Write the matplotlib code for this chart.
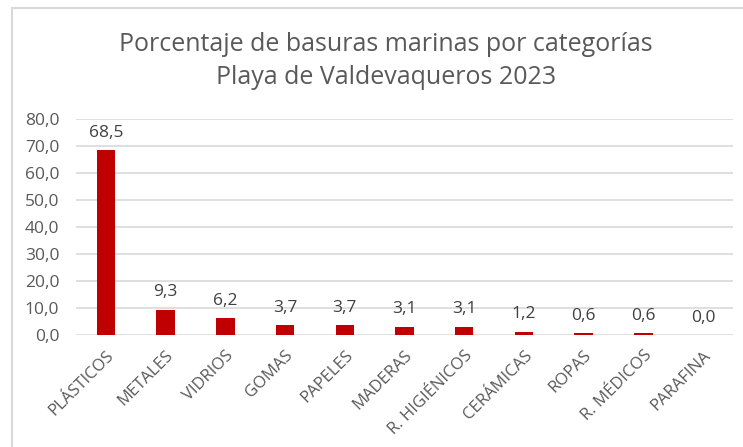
import matplotlib.pyplot as plt
from matplotlib.patches import Rectangle
from matplotlib.ticker import FuncFormatter

categorias = ["PLÁSTICOS", "METALES", "VIDRIOS", "GOMAS", "PAPELES", "MADERAS",
              "R. HIGIÉNICOS", "CERÁMICAS", "ROPAS", "R. MÉDICOS", "PARAFINA"]
porcentajes = [68.5, 9.3, 6.2, 3.7, 3.7, 3.1, 3.1, 1.2, 0.6, 0.6, 0.0]
titulo = "Porcentaje de basuras marinas por categorías\nPlaya de Valdevaqueros 2023"

plt.rcParams['font.family'] = ['Open Sans', 'DejaVu Sans']

fig = plt.figure(figsize=(7.43, 4.47), dpi=100)
ax = fig.add_axes([76 / 743, 112 / 447, 657 / 743, 216 / 447])

# marco del gráfico
fig.patches.append(Rectangle((12 / 743, -0.1), 1.2, (447 - 8) / 447 + 0.1,
                             transform=fig.transFigure, fill=False,
                             edgecolor="#d9d9d9", linewidth=1.5))

x = range(len(categorias))
ax.bar(x, porcentajes, width=0.31, color="#C00000", zorder=3)

for xi, v in zip(x, porcentajes):
    ax.text(xi, v + 3.5, f"{v:.1f}".replace(".", ","), ha="center", va="bottom",
            fontsize=12.5, color="#404040")

ax.set_xlim(-0.5, len(categorias) - 0.5)
ax.set_ylim(0, 80)
ax.set_yticks(range(0, 81, 10))
ax.yaxis.set_major_formatter(FuncFormatter(lambda v, p: f"{v:.1f}".replace(".", ",")))
ax.grid(axis="y", color="#d9d9d9", linewidth=1.2, zorder=0)
for s in ax.spines.values():
    s.set_visible(False)
ax.tick_params(length=0, colors="#595959", labelsize=12.5)
ax.tick_params(axis="y", pad=12)
ax.tick_params(axis="x", pad=9)
ax.set_xticks(list(x))
ax.set_xticklabels(categorias, rotation=45, ha="right", rotation_mode="anchor",
                   color="#595959", fontsize=12)

fig.text(386 / 743, 1 - 61 / 447, titulo, ha="center", va="center",
         fontsize=18, color="#595959", linespacing=1.37)

fig.savefig("out.png", dpi=100)
